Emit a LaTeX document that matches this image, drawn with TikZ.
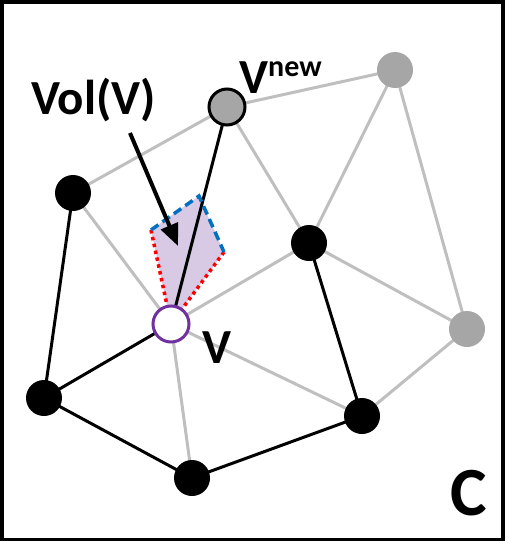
\documentclass[tikz,border=0pt]{standalone}
\usepackage{fontspec}
\setmainfont{Carlito}
\usetikzlibrary{arrows.meta}
\definecolor{edgegray}{RGB}{191,191,191}
\definecolor{nodegray}{RGB}{166,166,166}
\definecolor{vpurple}{RGB}{112,48,160}
\definecolor{volfill}{RGB}{216,201,229}
\definecolor{volblue}{RGB}{0,112,192}
\tikzset{
  vtx/.style={circle,minimum size=36pt,inner sep=0pt,fill=black},
  gvtx/.style={circle,minimum size=36pt,inner sep=0pt,fill=nodegray},
  newvtx/.style={circle,minimum size=36pt,inner sep=0pt,fill=nodegray,draw=black,line width=3pt},
  curvtx/.style={circle,minimum size=36pt,inner sep=0pt,fill=white,draw=vpurple,line width=3pt},
  gedge/.style={draw=edgegray,line width=3pt},
  bedge/.style={draw=black,line width=3pt},
  lbl/.style={inner sep=0pt,font=\bfseries}
}
\begin{document}
\begin{tikzpicture}[x=1pt,y=-1pt]
\useasboundingbox (0,0) rectangle (505,541);
\draw[line width=3.5pt] (1.75,1.75) rectangle (503,539.25);
% coordinates
\coordinate (nv) at (227,107);
\coordinate (g1) at (395,70);
\coordinate (g2) at (467,329);
\coordinate (b1) at (73,193);
\coordinate (b2) at (309,243);
\coordinate (b3) at (44,398);
\coordinate (b4) at (362,416);
\coordinate (b5) at (192,478);
\coordinate (v) at (171,324);
\coordinate (pl) at (151,230);
\coordinate (pt) at (199,196);
\coordinate (pr) at (224,252);
% volume
\fill[volfill] (v) -- (pl) -- (pt) -- (pr) -- cycle;
% edges
\draw[gedge] (b1) -- (nv);
\draw[gedge] (nv) -- (g1);
\draw[gedge] (nv) -- (b2);
\draw[gedge] (g1) -- (b2);
\draw[gedge] (g1) -- (g2);
\draw[gedge] (b2) -- (g2);
\draw[gedge] (g2) -- (b4);
\draw[gedge] (v) -- (b2);
\draw[gedge] (v) -- (b4);
\draw[gedge] (v) -- (b5);
\draw[gedge] (v) -- (b1);
\draw[bedge] (b1) -- (b3);
\draw[bedge] (b3) -- (v);
\draw[bedge] (b3) -- (b5);
\draw[bedge] (b5) -- (b4);
\draw[bedge] (b4) -- (b2);
\draw[bedge] (v) -- (nv);
% volume outline
\draw[red,line width=3.5pt,dash pattern=on 3.5pt off 3.5pt] (pl) -- (v) -- (pr);
\draw[volblue,line width=3.5pt,dash pattern=on 9pt off 5pt] (pl) -- (pt) -- (pr);
% nodes
\node[newvtx] (NV) at (nv) {};
\node[gvtx] (G1) at (g1) {};
\node[gvtx] (G2) at (g2) {};
\node[vtx] (B1) at (b1) {};
\node[vtx] (B2) at (b2) {};
\node[vtx] (B3) at (b3) {};
\node[vtx] (B4) at (b4) {};
\node[vtx] (B5) at (b5) {};
\node[curvtx] (V) at (v) {};
% labels
\node[lbl,anchor=base west,font=\fontsize{49}{54}\selectfont\bfseries] (volt) at (31,114) {Vol(V)};
\node[lbl,anchor=base west,font=\fontsize{49}{54}\selectfont\bfseries] (vnewt) at (239,93) {V\raisebox{17pt}{\fontsize{30}{33}\selectfont new}};
\node[lbl,anchor=base west,font=\fontsize{49}{54}\selectfont\bfseries] (vt) at (202,363) {V};
\node[lbl,anchor=base west,font=\fontsize{69}{74}\selectfont\bfseries] (ct) at (450,515) {C};
% arrow
\coordinate (as) at (130,133);
\coordinate (ae) at (178,246);
\draw[line width=4pt,-{Triangle[length=22pt,width=18pt]}] (as) -- (ae);
\end{tikzpicture}
\end{document}
